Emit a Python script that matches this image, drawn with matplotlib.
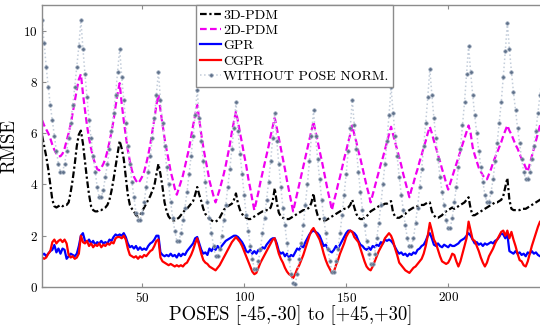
import numpy as np
import matplotlib as mpl
mpl.use('Agg')
import matplotlib.pyplot as plt


mpl.rcParams['font.family'] = 'cmr10'
mpl.rcParams['mathtext.fontset'] = 'cm'
mpl.rcParams['axes.formatter.use_mathtext'] = True
mpl.rcParams['axes.unicode_minus'] = False

## poses: 13 pitch blocks x 19 yaw steps
poses = np.arange(1, 248)

rmse_3d_pdm = [
    5.9, 5.5, 5.1, 4.6, 4.0, 3.4, 3.15, 3.1, 3.15, 3.2, 3.15, 3.2, 3.2, 3.3, 3.7, 4.2, 4.8, 5.5, 5.95,
    6.1, 5.6, 4.9, 4.2, 3.6, 3.15, 3.0, 2.95, 2.95, 3.0, 3.0, 3.05, 3.1, 3.2, 3.4, 3.75, 4.2, 4.7, 5.2,
    5.7, 5.4, 5.0, 4.3, 3.6, 3.2, 3.05, 2.95, 2.8, 2.75, 2.8, 2.95, 3.1, 3.25, 3.4, 3.55, 3.75, 3.95, 4.4,
    4.8, 4.4, 3.9, 3.3, 2.95, 2.75, 2.65, 2.6, 2.6, 2.65, 2.7, 2.8, 2.9, 3.0, 3.05, 3.15, 3.25, 3.35, 3.6,
    3.9, 3.6, 3.35, 3.05, 2.85, 2.75, 2.65, 2.6, 2.55, 2.55, 2.6, 2.7, 2.85, 3.0, 3.1, 3.15, 3.2, 3.25, 3.4,
    3.65, 3.25, 3.0, 2.85, 2.75, 2.7, 2.65, 2.65, 2.7, 2.75, 2.8, 2.85, 2.9, 2.95, 2.95, 3.0, 3.0, 3.1, 3.35,
    3.85, 3.3, 2.9, 2.75, 2.7, 2.65, 2.65, 2.65, 2.7, 2.75, 2.8, 2.85, 2.9, 2.95, 3.0, 3.0, 3.05, 3.1, 3.3,
    3.65, 3.1, 2.8, 2.65, 2.6, 2.6, 2.6, 2.65, 2.7, 2.75, 2.8, 2.85, 2.9, 2.95, 3.0, 3.05, 3.05, 3.1, 3.2,
    3.4, 3.1, 2.85, 2.7, 2.65, 2.65, 2.7, 2.75, 2.85, 2.95, 3.0, 3.05, 3.1, 3.15, 3.2, 3.2, 3.25, 3.25, 3.3,
    3.35, 2.9, 2.75, 2.7, 2.7, 2.75, 2.8, 2.85, 2.95, 3.0, 3.05, 3.1, 3.15, 3.15, 3.2, 3.2, 3.2, 3.25, 3.3,
    3.3, 2.95, 2.8, 2.7, 2.7, 2.75, 2.8, 2.9, 2.95, 3.0, 3.05, 3.1, 3.05, 3.1, 3.15, 3.2, 3.25, 3.3, 3.4,
    3.5, 3.05, 2.8, 2.8, 2.85, 2.9, 2.95, 3.0, 3.05, 3.1, 3.15, 3.2, 3.25, 3.3, 3.3, 3.35, 3.4, 3.55, 3.9,
    4.25, 3.4, 3.05, 3.0, 3.0, 3.0, 3.0, 3.05, 3.05, 3.05, 3.1, 3.15, 3.2, 3.25, 3.3, 3.35, 3.4, 3.45, 3.5,
]

rmse_2d_pdm = [
    6.5, 6.3, 6.15, 6.0, 5.8, 5.55, 5.35, 5.2, 5.1, 5.1, 5.2, 5.4, 5.7, 6.0, 6.35, 6.8, 7.25, 7.7, 8.1,
    8.3, 7.55, 6.9, 6.3, 5.8, 5.4, 5.05, 4.8, 4.6, 4.55, 4.65, 4.8, 5.0, 5.3, 5.65, 6.05, 6.5, 7.05, 7.55,
    7.95, 7.15, 6.5, 5.9, 5.35, 4.9, 4.55, 4.3, 4.15, 4.05, 4.15, 4.3, 4.5, 4.8, 5.15, 5.55, 6.05, 6.55, 7.1,
    7.5, 6.9, 6.35, 5.8, 5.35, 4.95, 4.5, 4.2, 3.85, 3.6, 3.85, 4.1, 4.35, 4.7, 5.05, 5.4, 5.85, 6.3, 6.7,
    7.1, 6.55, 5.95, 5.45, 5.0, 4.6, 4.15, 3.85, 3.55, 3.3, 3.55, 3.8, 4.1, 4.4, 4.75, 5.15, 5.55, 6.05, 6.45,
    6.85, 6.45, 6.0, 5.6, 5.15, 4.75, 4.25, 3.85, 3.4, 3.0, 3.35, 3.7, 4.1, 4.45, 4.8, 5.15, 5.5, 5.9, 6.25,
    6.6, 6.2, 5.8, 5.4, 5.0, 4.6, 4.15, 3.75, 3.35, 2.95, 3.3, 3.65, 4.0, 4.35, 4.7, 5.05, 5.4, 5.75, 6.1,
    6.45, 6.05, 5.7, 5.3, 4.95, 4.55, 4.15, 3.75, 3.4, 3.0, 3.35, 3.65, 4.0, 4.3, 4.65, 5.0, 5.3, 5.65, 5.95,
    6.3, 5.95, 5.65, 5.3, 5.0, 4.65, 4.3, 3.95, 3.65, 3.3, 3.6, 3.9, 4.2, 4.5, 4.8, 5.05, 5.35, 5.65, 5.95,
    6.25, 5.95, 5.65, 5.35, 5.05, 4.75, 4.4, 4.1, 3.8, 3.5, 3.8, 4.05, 4.35, 4.6, 4.9, 5.15, 5.45, 5.7, 6.0,
    6.25, 6.0, 5.7, 5.45, 5.15, 4.9, 4.6, 4.35, 4.05, 3.8, 4.05, 4.3, 4.55, 4.8, 5.05, 5.3, 5.55, 5.8, 6.05,
    6.3, 6.0, 5.45, 5.15, 4.9, 4.65, 4.5, 4.35, 4.25, 4.2, 4.4, 4.6, 4.85, 5.05, 5.25, 5.45, 5.65, 5.9, 6.1,
    6.3, 6.1, 5.95, 5.75, 5.55, 5.4, 5.2, 5.0, 4.85, 4.65, 4.5, 4.8, 5.1, 5.4, 5.7, 6.0, 6.3, 6.55, 6.8,
]

rmse_gpr = [
    1.25, 1.3, 1.2, 1.3, 1.4, 1.45, 1.64, 1.35, 1.5, 1.3, 1.5, 1.45, 1.1, 1.2, 1.3, 1.25, 1.2, 1.3, 1.6,
    2.0, 2.1, 1.8, 1.75, 1.85, 1.7, 1.8, 1.65, 1.75, 1.7, 1.8, 1.7, 1.75, 1.7, 1.85, 1.8, 1.95, 2.05, 2.0,
    2.05, 2.0, 2.1, 1.95, 1.7, 1.55, 1.6, 1.5, 1.6, 1.45, 1.55, 1.45, 1.5, 1.45, 1.6, 1.7, 1.75, 1.85, 2.0,
    2.0, 1.35, 1.25, 1.2, 1.25, 1.2, 1.3, 1.2, 1.25, 1.15, 1.3, 1.2, 1.3, 1.25, 1.4, 1.5, 1.6, 1.7, 1.9,
    1.95, 1.7, 1.45, 1.3, 1.35, 1.25, 1.5, 1.4, 1.55, 1.45, 1.6, 1.5, 1.6, 1.7, 1.8, 1.85, 1.9, 1.95, 2.0,
    2.0, 1.95, 1.85, 1.75, 1.6, 1.4, 1.35, 1.45, 1.3, 1.4, 1.3, 1.45, 1.4, 1.55, 1.5, 1.65, 1.75, 1.85, 1.9,
    1.9, 1.7, 1.4, 1.3, 1.35, 1.2, 1.3, 1.15, 1.25, 1.2, 1.35, 1.5, 1.45, 1.6, 1.55, 1.75, 1.9, 2.05, 2.15,
    2.2, 2.15, 2.1, 2.0, 1.8, 1.6, 1.65, 1.5, 1.4, 1.35, 1.45, 1.6, 1.5, 1.65, 1.8, 1.95, 2.1, 2.2, 2.2,
    2.15, 2.1, 2.0, 1.8, 1.65, 1.6, 1.5, 1.45, 1.55, 1.45, 1.6, 1.55, 1.65, 1.6, 1.75, 1.7, 1.85, 1.8, 1.85,
    1.8, 1.7, 1.55, 1.4, 1.3, 1.35, 1.25, 1.3, 1.2, 1.3, 1.25, 1.35, 1.3, 1.45, 1.5, 1.6, 1.65, 1.8, 2.0,
    2.1, 1.9, 1.65, 1.6, 1.7, 1.6, 1.55, 1.65, 1.6, 1.55, 1.65, 1.6, 1.6, 1.65, 1.7, 1.8, 1.85, 1.9, 2.0,
    2.1, 2.0, 1.85, 1.7, 1.75, 1.65, 1.7, 1.6, 1.7, 1.65, 1.7, 1.75, 1.7, 1.8, 1.85, 1.95, 2.1, 2.05, 1.9,
    2.05, 1.4, 1.35, 1.3, 1.4, 1.3, 1.35, 1.25, 1.3, 1.2, 1.35, 1.3, 1.4, 1.3, 1.35, 1.25, 1.2, 1.25, 1.3,
]

rmse_cgpr = [
    1.15, 1.1, 1.15, 1.3, 1.4, 1.75, 1.85, 1.7, 1.8, 1.85, 1.75, 1.85, 1.7, 1.25, 1.15, 1.2, 1.1, 1.15, 1.3,
    2.0, 1.75, 1.7, 1.8, 1.6, 1.7, 1.55, 1.65, 1.6, 1.7, 1.55, 1.65, 1.6, 1.7, 1.65, 1.75, 1.7, 1.9, 1.95,
    1.95, 1.9, 2.0, 1.85, 1.5, 1.25, 1.2, 1.15, 1.2, 1.1, 1.2, 1.15, 1.25, 1.2, 1.3, 1.4, 1.45, 1.6, 1.8,
    1.85, 1.15, 1.0, 0.95, 0.9, 0.85, 0.9, 0.85, 0.8, 0.85, 0.8, 0.85, 0.8, 0.9, 0.95, 1.1, 1.25, 1.45, 1.7,
    1.9, 1.6, 1.3, 1.05, 0.95, 0.9, 0.8, 0.75, 0.7, 0.65, 0.75, 0.85, 1.0, 1.15, 1.3, 1.45, 1.6, 1.75, 1.85,
    1.95, 1.85, 1.75, 1.6, 1.4, 1.2, 1.0, 0.8, 0.6, 0.5, 0.55, 0.75, 0.95, 1.1, 1.25, 1.4, 1.55, 1.7, 1.85,
    1.9, 1.6, 1.3, 1.1, 0.95, 0.75, 0.6, 0.5, 0.45, 0.35, 0.5, 0.7, 0.85, 1.05, 1.25, 1.5, 1.75, 2.0, 2.2,
    2.3, 2.15, 2.0, 1.85, 1.6, 1.3, 1.05, 0.85, 0.7, 0.55, 0.6, 0.85, 1.05, 1.3, 1.5, 1.7, 1.95, 2.1, 2.2,
    2.15, 1.95, 1.85, 1.75, 1.5, 1.25, 1.0, 0.8, 0.7, 0.65, 0.8, 1.0, 1.2, 1.4, 1.55, 1.7, 1.9, 2.0, 2.1,
    2.0, 1.8, 1.5, 1.25, 0.95, 0.85, 0.75, 0.65, 0.6, 0.55, 0.65, 0.75, 0.8, 0.9, 1.0, 1.1, 1.3, 1.6, 2.0,
    2.5, 2.2, 1.85, 1.7, 1.45, 1.2, 1.0, 0.95, 0.9, 0.95, 1.1, 1.3, 1.25, 1.0, 0.8, 1.0, 1.3, 1.6, 1.9,
    2.55, 2.2, 1.85, 1.8, 1.6, 1.4, 1.15, 0.95, 0.8, 0.95, 1.2, 1.35, 1.5, 1.7, 1.85, 2.0, 2.15, 2.2, 2.0,
    2.2, 1.9, 2.15, 1.85, 1.6, 1.3, 1.05, 1.0, 0.85, 0.8, 1.0, 1.3, 1.6, 1.85, 2.1, 2.35, 2.55, 2.6, 2.6,
]

rmse_no_norm = [
    10.4, 9.5, 8.6, 7.8, 7.1, 6.5, 5.9, 5.3, 4.8, 4.5, 4.5, 4.8, 5.3, 5.8, 6.4, 7.1, 7.8, 8.6, 9.4,
    10.4, 9.3, 8.3, 7.4, 6.5, 5.8, 5.1, 4.5, 3.9, 3.5, 3.5, 3.8, 4.3, 4.8, 5.4, 6.1, 6.8, 7.5, 8.4,
    9.3, 8.2, 7.3, 6.4, 5.5, 4.8, 4.1, 3.5, 2.9, 2.6, 2.6, 2.9, 3.3, 3.9, 4.5, 5.1, 5.8, 6.6, 7.5,
    8.4, 7.3, 6.4, 5.5, 4.7, 4.0, 3.3, 2.7, 2.2, 1.8, 1.8, 2.1, 2.6, 3.1, 3.7, 4.4, 5.1, 5.9, 6.7,
    7.7, 6.6, 5.7, 4.9, 4.1, 3.3, 2.7, 2.1, 1.6, 1.2, 1.2, 1.5, 2.0, 2.6, 3.2, 3.9, 4.6, 5.4, 6.2,
    7.2, 6.1, 5.2, 4.4, 3.6, 2.8, 2.2, 1.6, 1.1, 0.7, 0.7, 1.0, 1.5, 2.1, 2.7, 3.4, 4.1, 4.9, 5.8,
    6.8, 5.7, 4.8, 3.9, 3.1, 2.4, 1.7, 1.1, 0.5, 0.15, 0.1, 0.5, 1.1, 1.7, 2.4, 3.2, 4.0, 4.9, 5.9,
    6.9, 5.9, 5.0, 4.2, 3.4, 2.7, 2.1, 1.5, 1.0, 0.6, 0.6, 1.0, 1.5, 2.1, 2.8, 3.6, 4.4, 5.3, 6.2,
    7.3, 6.3, 5.4, 4.5, 3.7, 3.0, 2.4, 1.8, 1.3, 0.9, 0.9, 1.3, 1.9, 2.5, 3.2, 4.0, 4.8, 5.7, 6.7,
    7.8, 6.8, 5.9, 5.1, 4.3, 3.6, 3.0, 2.4, 1.9, 1.6, 1.6, 1.9, 2.5, 3.1, 3.9, 4.6, 5.5, 6.4, 7.4,
    8.5, 7.5, 6.6, 5.8, 5.0, 4.3, 3.7, 3.2, 2.6, 2.3, 2.3, 2.7, 3.3, 3.9, 4.7, 5.4, 6.3, 7.2, 8.3,
    9.4, 8.4, 7.5, 6.7, 6.0, 5.3, 4.7, 4.1, 3.6, 3.3, 3.3, 3.7, 4.2, 4.9, 5.6, 6.4, 7.2, 8.2, 9.2,
    10.3, 9.3, 8.4, 7.6, 6.9, 6.2, 5.6, 5.0, 4.5, 4.2, 4.2, 4.5, 5.0, 5.5, 6.1, 6.8, 7.5, 8.3, 9.1,
]

labels = ['3D-PDM', '2D-PDM', 'GPR', 'CGPR', 'WITHOUT POSE NORM.']
x_ticks = [50, 100, 150, 200]
y_ticks = [0, 2, 4, 6, 8, 10]

SPINE = '#8c8c8c'


def plot_rmse():
    fig = plt.figure(figsize=(5.4, 3.27), dpi=100)
    ax = fig.add_axes([0.078, 0.1223, 0.922, 0.8625])

    ax.plot(poses, rmse_3d_pdm, color='k', lw=1.6, dashes=(3.0, 1.2, 1.0, 1.2),
            label=labels[0])
    ax.plot(poses, rmse_2d_pdm, color='#f000f0', lw=1.6, dashes=(3.0, 1.5),
            label=labels[1])
    ax.plot(poses, rmse_gpr, color='#0000ff', lw=1.6, label=labels[2])
    ax.plot(poses, rmse_cgpr, color='#ff0000', lw=1.6, label=labels[3])
    ax.plot(poses, rmse_no_norm, color='#c3cdda', lw=1.1, ls=':',
            marker='o', ms=2.5, mfc='#5f7089', mec='#9aa8bb', mew=0.5,
            label=labels[4])

    ax.set_xlim(1, 245)
    ax.set_ylim(0, 11)
    ax.set_xticks(x_ticks)
    ax.set_yticks(y_ticks)
    ax.tick_params(direction='in', length=3, width=0.8, color=SPINE,
                   top=True, right=False, labelsize=9.5, pad=3)
    for side in ['left', 'bottom', 'top']:
        ax.spines[side].set_color(SPINE)
        ax.spines[side].set_linewidth(1.0)
    ax.spines['right'].set_visible(False)

    ax.set_xlabel('POSES [-45,-30] to [+45,+30]', fontsize=13.5)
    ax.xaxis.set_label_coords(0.5, -0.064)
    ax.set_ylabel('RMSE', fontsize=13.5)
    ax.yaxis.set_label_coords(-0.048, 0.5)

    leg = ax.legend(loc='upper left', bbox_to_anchor=(0.309, 1.0),
                    fontsize=10, handlelength=1.5, handletextpad=0.15,
                    labelspacing=0.18, borderpad=0.3, borderaxespad=0,
                    fancybox=False, framealpha=1)
    leg.get_frame().set_edgecolor(SPINE)
    leg.get_frame().set_linewidth(1.0)

    fig.savefig('out.png', dpi=100)


def main():
    plot_rmse()


if __name__ == '__main__':
    main()
